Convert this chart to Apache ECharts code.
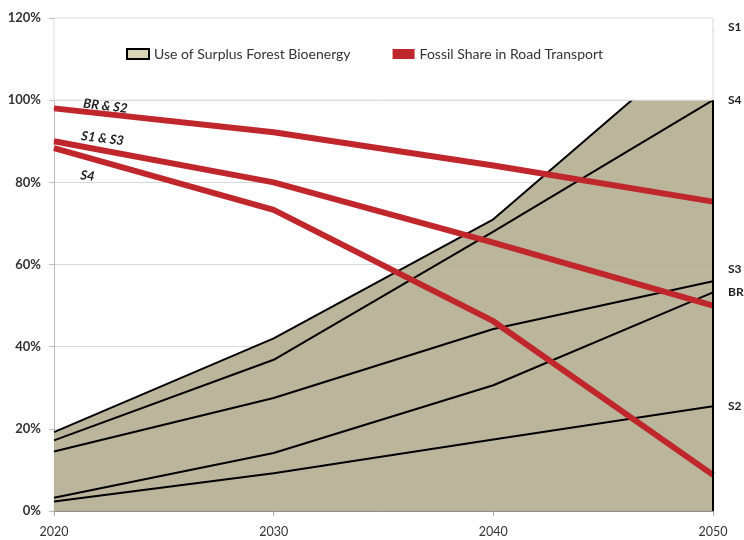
<!DOCTYPE html>
<html>
<head>
<meta charset="utf-8">
<script src="https://cdn.jsdelivr.net/npm/echarts@6/dist/echarts.min.js"></script>
<style>html,body{margin:0;padding:0;background:#fff}#c{width:744px;height:540px}</style>
</head>
<body>
<div id="c"></div>
<script>
const years = ['2020', '2030', '2040', '2050'];
// Use of surplus forest bioenergy (%), per scenario
const bioS1 = [19.2, 42, 71, 117];
const bioS4 = [17.2, 36.8, 68, 100];
const bioS3 = [14.5, 27.5, 44.3, 55.9];
const bioBR = [3.2, 14.1, 30.6, 53.2];
const bioS2 = [2.3, 9.2, 17.4, 25.5];
// Fossil share in road transport (%)
const fossilBRS2 = [98, 92.2, 84.1, 75.3];
const fossilS1S3 = [90, 80, 65.3, 50];
const fossilS4 = [88.3, 73.3, 46.2, 8.8];

const bioName = 'Use of Surplus Forest Bioenergy';
const fossilName = 'Fossil Share in Road Transport';
const FONT = 'Lato, "Open Sans", sans-serif';
const RED = '#c0272d';

function blackLine(name, data, lbl, off) {
  return {
    name: name, type: 'line', data: data, symbol: 'none', z: 2,
    lineStyle: {color: '#000', width: 2},
    endLabel: {show: true, formatter: lbl, distance: 15, offset: off || [0, 0],
      fontFamily: FONT, fontWeight: 'bold', fontSize: 12, color: '#222'}
  };
}
function redLine(data, lbl, off) {
  return {
    name: fossilName, type: 'line', symbol: 'circle', symbolSize: 1, z: 4,
    lineStyle: {color: RED, width: 6}, itemStyle: {color: RED},
    data: data.map((v, i) => i === 0 ? {value: v, label: {show: true, formatter: lbl,
      position: 'right', offset: off, rotate: -7, fontFamily: FONT, fontStyle: 'italic',
      fontWeight: 'bold', fontSize: 13, color: '#222'}} : v)
  };
}

const boxSeries = redLine(fossilBRS2, 'BR & S2', [23, -8]);
boxSeries.markArea = {silent: true, z: 3, itemStyle: {color: '#fff', borderColor: '#d9d9d9', borderWidth: 1},
  data: [[{xAxis: '2020', yAxis: 100}, {xAxis: '2050', yAxis: 120}]]};

const chart = echarts.init(document.getElementById('c'));
chart.setOption({
  animation: false,
  grid: {left: 54, right: 31, top: 18, bottom: 29},
  legend: {
    left: 121, top: 42, z: 10, itemWidth: 22, itemHeight: 10, itemGap: 42,
    textStyle: {fontFamily: FONT, fontSize: 14, color: '#333'},
    data: [
      {name: bioName, icon: 'rect', itemStyle: {color: '#d9d4b4', borderColor: '#000', borderWidth: 2}},
      {name: fossilName, icon: 'rect', itemStyle: {color: RED}}
    ],
    selectedMode: false
  },
  xAxis: {
    type: 'category', data: years, boundaryGap: false,
    axisLine: {lineStyle: {color: '#777', width: 1.5}},
    axisTick: {show: true, alignWithLabel: true, length: 5, lineStyle: {color: '#aaa'}},
    axisLabel: {fontFamily: FONT, fontSize: 12.5, color: '#333', margin: 14},
    splitLine: {show: false}
  },
  yAxis: {
    type: 'value', min: 0, max: 120, interval: 20,
    axisLine: {show: true, lineStyle: {color: '#bbb'}},
    axisTick: {show: true, length: 5, lineStyle: {color: '#bbb'}},
    axisLabel: {formatter: '{value}%', fontFamily: FONT, fontWeight: 'bold', fontSize: 13, color: '#333', margin: 13},
    splitLine: {lineStyle: {color: '#d9d9d9'}}
  },
  series: [
    Object.assign(blackLine(bioName, bioS1, 'S1', [0, -3]), {
      areaStyle: {color: 'rgba(181,175,146,0.92)', opacity: 1},
      markLine: {silent: true, symbol: 'none', label: {show: false},
        lineStyle: {color: '#000', width: 2, type: 'solid'},
        data: [[{coord: ['2050', 0]}, {coord: ['2050', 100]}]]}
    }),
    blackLine('S4', bioS4, 'S4'),
    blackLine('S3', bioS3, 'S3', [0, -12]),
    blackLine('BR', bioBR, 'BR'),
    blackLine('S2', bioS2, 'S2'),
    boxSeries,
    redLine(fossilS1S3, 'S1 & S3', [21, -8]),
    redLine(fossilS4, 'S4', [24, 24])
  ]
});
</script>
</body>
</html>
